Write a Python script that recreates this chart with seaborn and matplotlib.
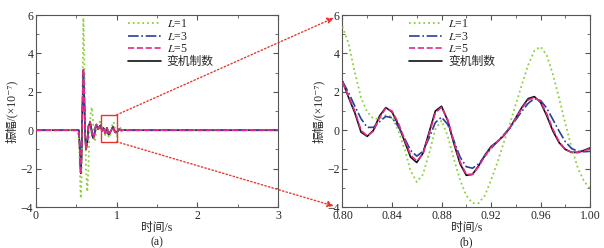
import numpy as np
import pandas as pd
import seaborn as sns
import matplotlib.pyplot as plt
from matplotlib.patches import Rectangle, ConnectionPatch
from matplotlib.ticker import MultipleLocator

# ---- data ----
# panel (b): 0.80 - 1.00 s, every 0.005 s  (x10^-7)
t_zoom = [0.800, 0.805, 0.810, 0.815, 0.820, 0.825, 0.830, 0.835, 0.840, 0.845,
          0.850, 0.855, 0.860, 0.865, 0.870, 0.875, 0.880, 0.885, 0.890, 0.895,
          0.900, 0.905, 0.910, 0.915, 0.920, 0.925, 0.930, 0.935, 0.940, 0.945,
          0.950, 0.955, 0.960, 0.965, 0.970, 0.975, 0.980, 0.985, 0.990, 0.995, 1.000]
l1_zoom = [5.4, 4.5, 3.0, 1.7, 0.95, 0.6, 0.6, 0.78, 0.7, 0.0,
           -0.95, -2.1, -2.7, -2.3, -1.2, 0.05, 0.5, -0.3, -1.5, -2.6,
           -3.4, -3.8, -3.8, -3.4, -2.6, -1.7, -0.7, 0.3, 1.35, 2.4,
           3.4, 4.15, 4.35, 3.9, 2.9, 1.65, 0.35, -0.9, -1.95, -2.65, -3.05]
l3_zoom = [2.55, 1.95, 1.25, 0.6, 0.15, 0.15, 0.45, 0.72, 0.65, 0.2,
           -0.4, -1.05, -1.35, -1.1, -0.4, 0.4, 0.68, 0.3, -0.55, -1.4,
           -1.9, -1.98, -1.75, -1.35, -0.95, -0.6, -0.25, 0.1, 0.55, 1.0,
           1.4, 1.65, 1.55, 1.15, 0.55, -0.05, -0.6, -0.95, -1.1, -1.12, -1.1]
l5_zoom = [2.5, 1.75, 1.0, 0.0, -0.3, -0.05, 0.65, 1.15, 1.0, 0.4,
           -0.45, -1.3, -1.6, -1.25, -0.2, 0.9, 1.2, 0.55, -0.6, -1.65,
           -2.3, -2.3, -1.9, -1.35, -0.9, -0.6, -0.3, 0.1, 0.62, 1.15,
           1.58, 1.7, 1.5, 0.85, 0.05, -0.6, -1.0, -1.15, -1.17, -1.08, -0.95]
var_zoom = [2.55, 1.7, 0.9, -0.1, -0.32, 0.0, 0.75, 1.18, 0.95, 0.3,
            -0.55, -1.4, -1.68, -1.2, -0.1, 1.0, 1.25, 0.5, -0.7, -1.75,
            -2.35, -2.3, -1.85, -1.3, -0.85, -0.6, -0.3, 0.1, 0.65, 1.2,
            1.65, 1.75, 1.45, 0.75, -0.05, -0.65, -1.0, -1.15, -1.15, -1.05, -0.92]

# panel (a): transient before 0.80 s and tail after 1.00 s  (x10^-7)
t_pre = [0.0, 0.50, 0.53, 0.54, 0.55, 0.556, 0.565, 0.575, 0.587, 0.60,
         0.61, 0.62, 0.636, 0.65, 0.66, 0.67, 0.69, 0.70, 0.71, 0.72,
         0.73, 0.74, 0.75, 0.76, 0.77, 0.78, 0.79]
l1_pre = [0.0, 0.0, -0.3, -1.5, -3.0, -3.55, -2.5, 1.5, 5.85, 3.5,
          0.5, -2.0, -3.2, -2.0, -0.5, 0.5, 1.2, 0.9, 0.2, -0.4,
          -0.6, -0.3, 0.1, 0.3, 0.3, 0.35, 0.45]
l3_pre = [0.0, 0.0, 0.0, -0.6, -1.7, -2.1, -1.2, 1.0, 3.0, 1.4,
          -0.3, -0.95, -0.6, 0.2, 0.3, 0.4, 0.0, -0.3, -0.4, -0.3,
          -0.05, 0.2, 0.28, 0.2, 0.08, 0.12, 0.2]
l5_pre = [0.0, 0.0, 0.0, -0.7, -1.9, -2.3, -1.3, 1.2, 3.2, 1.5,
          -0.3, -1.0, -0.65, 0.2, 0.3, 0.45, -0.05, -0.3, -0.42, -0.3,
          -0.05, 0.2, 0.3, 0.2, 0.05, 0.1, 0.2]
var_pre = [0.0, 0.0, 0.0, -0.7, -1.9, -2.25, -1.3, 1.1, 3.15, 1.5,
           -0.3, -1.0, -0.65, 0.2, 0.3, 0.45, -0.05, -0.3, -0.4, -0.3,
           -0.05, 0.2, 0.3, 0.2, 0.05, 0.1, 0.2]

t_tail = [1.01, 1.02, 1.03, 1.04, 1.05, 1.06, 1.07, 1.09, 1.12, 1.20, 3.0]
l1_tail = [-0.2, 0.0, 0.1, 0.15, 0.1, 0.0, -0.05, 0.03, 0.0, 0.0, 0.0]
l3_tail = [-0.08, 0.0, 0.05, 0.04, 0.0, -0.02, -0.01, 0.01, 0.0, 0.0, 0.0]
l5_tail = [-0.06, 0.01, 0.05, 0.03, 0.0, -0.02, 0.0, 0.01, 0.0, 0.0, 0.0]
var_tail = [-0.05, 0.02, 0.05, 0.03, 0.0, -0.02, 0.0, 0.01, 0.0, 0.0, 0.0]

zoom_scale = 0.1  # panel (b) values appear x10 larger than in panel (a)

labels = ['$L$=1', '$L$=3', '$L$=5', '变机制数']
colors = ['#8ccf3c', '#2a3f9c', '#e32a86', '#111111']
styles = [':', '-.', '--', '-']
widths = [1.3, 1.2, 1.2, 1.2]
zords = [3, 4, 5, 2]

zoom_series = [l1_zoom, l3_zoom, l5_zoom, var_zoom]
pre_series = [l1_pre, l3_pre, l5_pre, var_pre]
tail_series = [l1_tail, l3_tail, l5_tail, var_tail]

sns.set_style('ticks')
plt.rcParams['font.family'] = ['Liberation Serif', 'Noto Sans CJK SC', 'DejaVu Sans']
plt.rcParams['mathtext.fontset'] = 'stix'
plt.rcParams['axes.unicode_minus'] = True

fig = plt.figure(figsize=(6.04, 2.48), dpi=100)
ax1 = fig.add_axes([0.0596, 0.1653, 0.4007, 0.774])
ax2 = fig.add_axes([0.567, 0.1653, 0.41, 0.774])

for i in range(4):
    t_full = list(t_pre) + list(t_zoom) + list(t_tail)
    y_full = list(pre_series[i]) + [v * zoom_scale for v in zoom_series[i]] + list(tail_series[i])
    df = pd.DataFrame({'t': t_full, 'y': y_full})
    sns.lineplot(data=df, x='t', y='y', ax=ax1, color=colors[i], linestyle=styles[i],
                 linewidth=widths[i], label=labels[i], zorder=zords[i], sort=False)
    dz = pd.DataFrame({'t': t_zoom, 'y': zoom_series[i]})
    sns.lineplot(data=dz, x='t', y='y', ax=ax2, color=colors[i], linestyle=styles[i],
                 linewidth=widths[i], label=labels[i], zorder=zords[i], sort=False)

ax1.set_xlim(0, 3)
ax1.set_ylim(-4, 6)
ax1.xaxis.set_major_locator(MultipleLocator(1))
ax1.xaxis.set_minor_locator(MultipleLocator(0.5))
ax2.set_xlim(0.8, 1.0)
ax2.set_ylim(-4, 6)
ax2.xaxis.set_major_locator(MultipleLocator(0.04))
ax2.xaxis.set_minor_locator(MultipleLocator(0.02))
ax2.xaxis.set_major_formatter(plt.FuncFormatter(lambda v, p: f'{v:.2f}'))

for ax, tag in [(ax1, '(a)'), (ax2, '(b)')]:
    ax.yaxis.set_major_locator(MultipleLocator(2))
    ax.yaxis.set_minor_locator(MultipleLocator(1))
    ax.tick_params(which='both', direction='in', top=True, right=True, labelsize=8.5,
                   pad=2, color='#555555')
    ax.tick_params(which='major', length=3.5)
    ax.tick_params(which='minor', length=2)
    for s in ax.spines.values():
        s.set_color('#555555')
        s.set_linewidth(0.8)
    ax.set_xlabel('时间/s', fontsize=8.5, labelpad=0)
    ax.set_ylabel('振幅/(×10⁻⁷)', fontsize=8.5, labelpad=2)
    ax.text(0.5, -0.15, tag, transform=ax.transAxes, ha='center', va='top', fontsize=8.5)

ax1.legend(loc='upper left', bbox_to_anchor=(0.35, 1.02), frameon=False, fontsize=8.5,
           handlelength=2.8, labelspacing=0.05, borderaxespad=0.2, handletextpad=0.5)
ax2.legend(loc='upper left', bbox_to_anchor=(0.24, 1.02), frameon=False, fontsize=8.5,
           handlelength=2.8, labelspacing=0.05, borderaxespad=0.2, handletextpad=0.5)

# zoom box and arrows
red = '#e8362e'
ax1.add_patch(Rectangle((0.8, -0.6), 0.2, 1.4, fill=False, edgecolor=red, linewidth=1.0, zorder=6))
for ya, yb in [(0.8, 0.985), (-0.6, 0.005)]:
    con = ConnectionPatch(xyA=(1.0, ya), coordsA=ax1.transData,
                          xyB=(-0.035, yb), coordsB=ax2.transAxes,
                          arrowstyle='-|>', mutation_scale=9, color=red,
                          linestyle=':', linewidth=1.0)
    fig.add_artist(con)

fig.savefig('out.png', dpi=100)
